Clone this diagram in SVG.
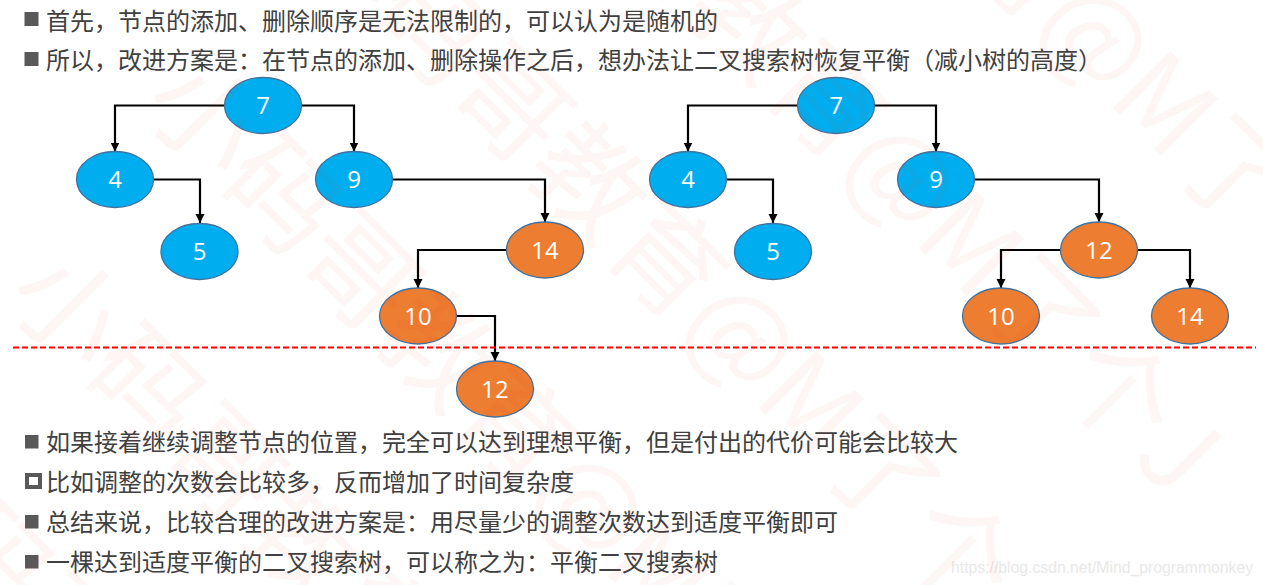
<svg xmlns="http://www.w3.org/2000/svg" width="1263" height="585" viewBox="0 0 1263 585">
<style>
.t{font-family:"Noto Sans CJK SC","Liberation Sans",sans-serif;font-size:24px;fill:#404040}
.n{font-family:"Open Sans","Liberation Sans",sans-serif;font-size:24px;fill:#fff;text-anchor:middle}
.b{stroke:#41719c;stroke-width:1.3;fill:#00aeef}
.o{stroke:#41719c;stroke-width:1.3;fill:#ed7d31}
.c{fill:none;stroke:#000;stroke-width:2.200;marker-end:url(#a)}
.w{font-family:"Noto Sans CJK SC","Liberation Sans",sans-serif;font-size:110px;fill:#e33;opacity:.045}
.s{fill:#595959}
</style>
<defs><marker id="a" markerUnits="userSpaceOnUse" markerWidth="10" markerHeight="10" refX="9" refY="5" orient="auto"><path d="M0 0.500L9 5L0 9.500z" fill="#000"/></marker></defs>
<rect width="1263" height="585" fill="#fff"/>
<g id="text">
<rect class="s" x="24.500" y="12" width="14" height="14"/><text class="t" x="46" y="30">首先，节点的添加、删除顺序是无法限制的，可以认为是随机的</text>
<rect class="s" x="24.500" y="52" width="14" height="14"/><text class="t" x="46" y="69">所以，改进方案是：在节点的添加、删除操作之后，想办法让二叉搜索树恢复平衡（减小树的高度）</text>
<rect class="s" x="25" y="435" width="13.500" height="13.500"/><text class="t" x="46" y="451">如果接着继续调整节点的位置，完全可以达到理想平衡，但是付出的代价可能会比较大</text>
<rect x="27" y="475" width="13" height="12" fill="none" stroke="#595959" stroke-width="4"/><text class="t" x="46" y="491">比如调整的次数会比较多，反而增加了时间复杂度</text>
<rect class="s" x="25" y="515" width="13.500" height="13.500"/><text class="t" x="46" y="531">总结来说，比较合理的改进方案是：用尽量少的调整次数达到适度平衡即可</text>
<rect class="s" x="25" y="555" width="13.500" height="13.500"/><text class="t" x="46" y="571">一棵达到适度平衡的二叉搜索树，可以称之为：平衡二叉搜索树</text>
<text x="951" y="573" font-family="Liberation Sans,sans-serif" font-size="15.750" fill="#e8e8e8">https://blog.csdn.net/Mind_programmonkey</text>
</g>
<g id="connectors">
<path class="c" d="M224 105.500H115V151.500"/>
<path class="c" d="M302 105.500H354V151.500"/>
<path class="c" d="M154 179.500H200V223"/>
<path class="c" d="M393 179.500H545V222"/>
<path class="c" d="M506 250H418V288"/>
<path class="c" d="M457 316H495V361"/>
<path class="c" d="M797 105.500H688V151.500"/>
<path class="c" d="M875 105.500H936V151.500"/>
<path class="c" d="M727 179.500H773V223"/>
<path class="c" d="M975 179.500H1099V222"/>
<path class="c" d="M1060 250H1001V288"/>
<path class="c" d="M1138 250H1190V288"/>
</g>
<path id="divider" d="M13 347.500H1256" stroke="#f00" stroke-width="2" stroke-dasharray="6 3" fill="none"/>
<g id="n7"><ellipse class="b" cx="263" cy="105.500" rx="38.500" ry="28"/><text class="n" x="263" y="114">7</text></g>
<g id="n4"><ellipse class="b" cx="115" cy="179.500" rx="38.500" ry="28"/><text class="n" x="115" y="188">4</text></g>
<g id="n9"><ellipse class="b" cx="354" cy="179.500" rx="38.500" ry="28"/><text class="n" x="354" y="188">9</text></g>
<g id="n5"><ellipse class="b" cx="199.500" cy="251.500" rx="38.500" ry="28"/><text class="n" x="199.500" y="260">5</text></g>
<g id="n14"><ellipse class="o" cx="545" cy="250" rx="38.500" ry="28"/><text class="n" x="545" y="259">14</text></g>
<g id="n10"><ellipse class="o" cx="418" cy="316" rx="38.500" ry="28"/><text class="n" x="418" y="325">10</text></g>
<g id="n12"><ellipse class="o" cx="495" cy="389" rx="38.500" ry="28"/><text class="n" x="495" y="398">12</text></g>
<g id="r7"><ellipse class="b" cx="836" cy="105.500" rx="38.500" ry="28"/><text class="n" x="836" y="114">7</text></g>
<g id="r4"><ellipse class="b" cx="688" cy="179.500" rx="38.500" ry="28"/><text class="n" x="688" y="188">4</text></g>
<g id="r9"><ellipse class="b" cx="936" cy="179.500" rx="38.500" ry="28"/><text class="n" x="936" y="188">9</text></g>
<g id="r5"><ellipse class="b" cx="773" cy="251.500" rx="38.500" ry="28"/><text class="n" x="773" y="260">5</text></g>
<g id="r12"><ellipse class="o" cx="1099" cy="250" rx="38.500" ry="28"/><text class="n" x="1099" y="259">12</text></g>
<g id="r10"><ellipse class="o" cx="1001" cy="316" rx="38.500" ry="28"/><text class="n" x="1001" y="325">10</text></g>
<g id="r14"><ellipse class="o" cx="1190" cy="316" rx="38.500" ry="28"/><text class="n" x="1190" y="325">14</text></g>
<g id="watermark">
<text class="w" transform="translate(-150,470) rotate(45)">小码哥教育@M了个J</text>
<text class="w" transform="translate(2,298) rotate(45)">小码哥教育@M了个J</text>
<text class="w" transform="translate(138,106) rotate(45)">小码哥教育@M了个J</text>
<text class="w" transform="translate(289,-62) rotate(45)">小码哥教育@M了个J</text>
<text class="w" transform="translate(449,-222) rotate(45)">小码哥教育@M了个J</text>
<text class="w" transform="translate(643,-362) rotate(45)">小码哥教育@M了个J</text>
</g>
</svg>
